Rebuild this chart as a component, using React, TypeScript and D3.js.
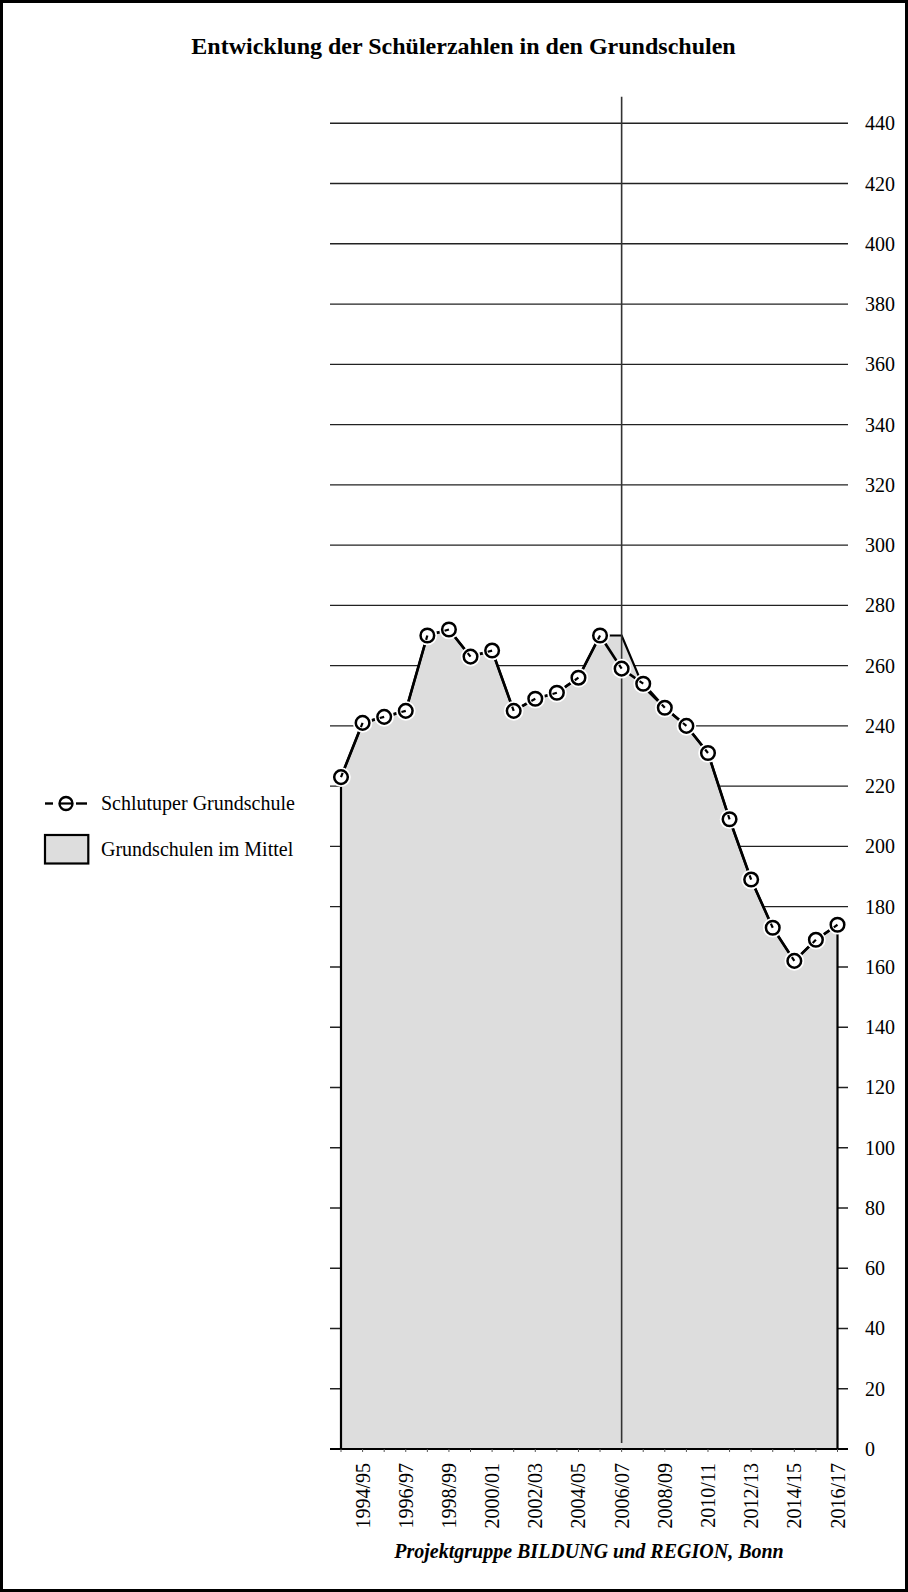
import React, { useEffect } from 'react';
import * as d3 from 'd3';

// school years on the x axis (one point per year)
const years = [
  '1993/94', '1994/95', '1995/96', '1996/97', '1997/98', '1998/99', '1999/00', '2000/01',
  '2001/02', '2002/03', '2003/04', '2004/05', '2005/06', '2006/07', '2007/08', '2008/09',
  '2009/10', '2010/11', '2011/12', '2012/13', '2013/14', '2014/15', '2015/16', '2016/17',
];
const labelledYears = [
  '1994/95', '1996/97', '1998/99', '2000/01', '2002/03', '2004/05',
  '2006/07', '2008/09', '2010/11', '2012/13', '2014/15', '2016/17',
];
const markerYear = '2006/07';

// Schlutuper Grundschule
const schoolValues = [223, 241, 243, 245, 270, 272, 263, 265, 245, 249, 251, 256, 270, 259, 254, 246, 240, 231, 209, 189, 173, 162, 169, 174];
// Grundschulen im Mittel
const meanValues = [223, 241, 243, 245, 270, 272, 263, 265, 245, 249, 251, 256, 270, 270, 253, 246, 240, 231, 209, 189, 173, 162, 169, 174];

const yTicks = [0, 20, 40, 60, 80, 100, 120, 140, 160, 180, 200, 220, 240, 260, 280, 300, 320, 340, 360, 380, 400, 420, 440];

const title = 'Entwicklung der Schülerzahlen in den Grundschulen';
const legendLine = 'Schlutuper Grundschule';
const legendArea = 'Grundschulen im Mittel';
const source = 'Projektgruppe BILDUNG und REGION, Bonn';

const W = 908;
const H = 1592;
const FONT = '"Liberation Serif", "Times New Roman", serif';

const App: React.FC = () => {
  useEffect(() => {
    document.body.style.margin = '0';
  }, []);

  const x = d3.scaleLinear().domain([0, years.length - 1]).range([341, 837.5]);
  const y = d3.scaleLinear().domain([0, 440]).range([1449, 123.3]);
  const gridLeft = 330;
  const gridRight = 848;

  const area = d3.area<number>()
    .x((d, i) => x(i))
    .y0(y(0))
    .y1(d => y(d));

  const line = d3.line<number>()
    .x((d, i) => x(i))
    .y(d => y(d));

  const markerX = x(years.indexOf(markerYear));

  return (
    <svg width={W} height={H} style={{ display: 'block' }} fontFamily={FONT}>
      <rect x={0} y={0} width={W} height={H} fill="#fff" />
      <rect x={1.5} y={1.5} width={W - 3} height={H - 3} fill="none" stroke="#000" strokeWidth={3} />

      <text x={463.5} y={54} textAnchor="middle" fontWeight="bold" fontSize={24}>{title}</text>

      {/* grid lines */}
      {yTicks.slice(1).map(t => (
        <line key={t} x1={gridLeft} x2={gridRight} y1={y(t)} y2={y(t)} stroke="#222" strokeWidth={1.4} />
      ))}

      {/* mean area */}
      <path d={area(meanValues) || ''} fill="#dddddd" stroke="#000" strokeWidth={2.2} strokeLinejoin="miter" />

      {/* reference year line */}
      <line x1={markerX} x2={markerX} y1={96.7} y2={1443} stroke="#333" strokeWidth={1.6} />

      {/* bottom axis */}
      <line x1={gridLeft} x2={gridRight} y1={y(0)} y2={y(0)} stroke="#000" strokeWidth={2.2} />
      {years.map((yr, i) => (
        <line key={yr} x1={x(i)} x2={x(i)} y1={y(0)} y2={y(0) + 3} stroke="#555" strokeWidth={1} />
      ))}

      {/* y labels */}
      {yTicks.map(t => (
        <text key={t} x={865} y={y(t)} dy="0.35em" fontSize={20}>{t}</text>
      ))}

      {/* x labels */}
      {labelledYears.map(yr => {
        const px = x(years.indexOf(yr));
        return (
          <text key={yr} transform={`translate(${px},1463) rotate(-90)`} textAnchor="end" dy="0.35em" fontSize={20}>{yr}</text>
        );
      })}

      {/* school line */}
      <path d={line(schoolValues) || ''} fill="none" stroke="#000" strokeWidth={2.7} />
      {schoolValues.map((v, i) => {
        const cx = x(i);
        const cy = y(v);
        const j = i === 0 ? 1 : i - 1;
        const dx = x(j) - cx;
        const dyv = y(schoolValues[j]) - cy;
        const len = Math.sqrt(dx * dx + dyv * dyv) || 1;
        return (
          <g key={i}>
            <circle cx={cx} cy={cy} r={9.8} fill="#fff" />
            <circle cx={cx} cy={cy} r={6.8} fill="#fff" stroke="#000" strokeWidth={2.5} />
            <line x1={cx} y1={cy} x2={cx + (dx / len) * 4.5} y2={cy + (dyv / len) * 4.5} stroke="#000" strokeWidth={2.2} />
          </g>
        );
      })}

      {/* legend */}
      <g>
        <line x1={45} x2={53} y1={803.5} y2={803.5} stroke="#000" strokeWidth={2.4} />
        <line x1={76} x2={87} y1={803.5} y2={803.5} stroke="#000" strokeWidth={2.4} />
        <circle cx={66} cy={803.5} r={6.5} fill="#fff" stroke="#000" strokeWidth={2.4} />
        <line x1={60} x2={72} y1={803.5} y2={803.5} stroke="#000" strokeWidth={2.2} />
        <text x={101} y={810} fontSize={20}>{legendLine}</text>
        <rect x={45} y={835} width={43.3} height={28.5} fill="#dddddd" stroke="#000" strokeWidth={2.2} />
        <text x={101} y={856} fontSize={20}>{legendArea}</text>
      </g>

      <text x={589} y={1558} textAnchor="middle" fontWeight="bold" fontStyle="italic" fontSize={20}>{source}</text>
    </svg>
  );
};

export default App;
